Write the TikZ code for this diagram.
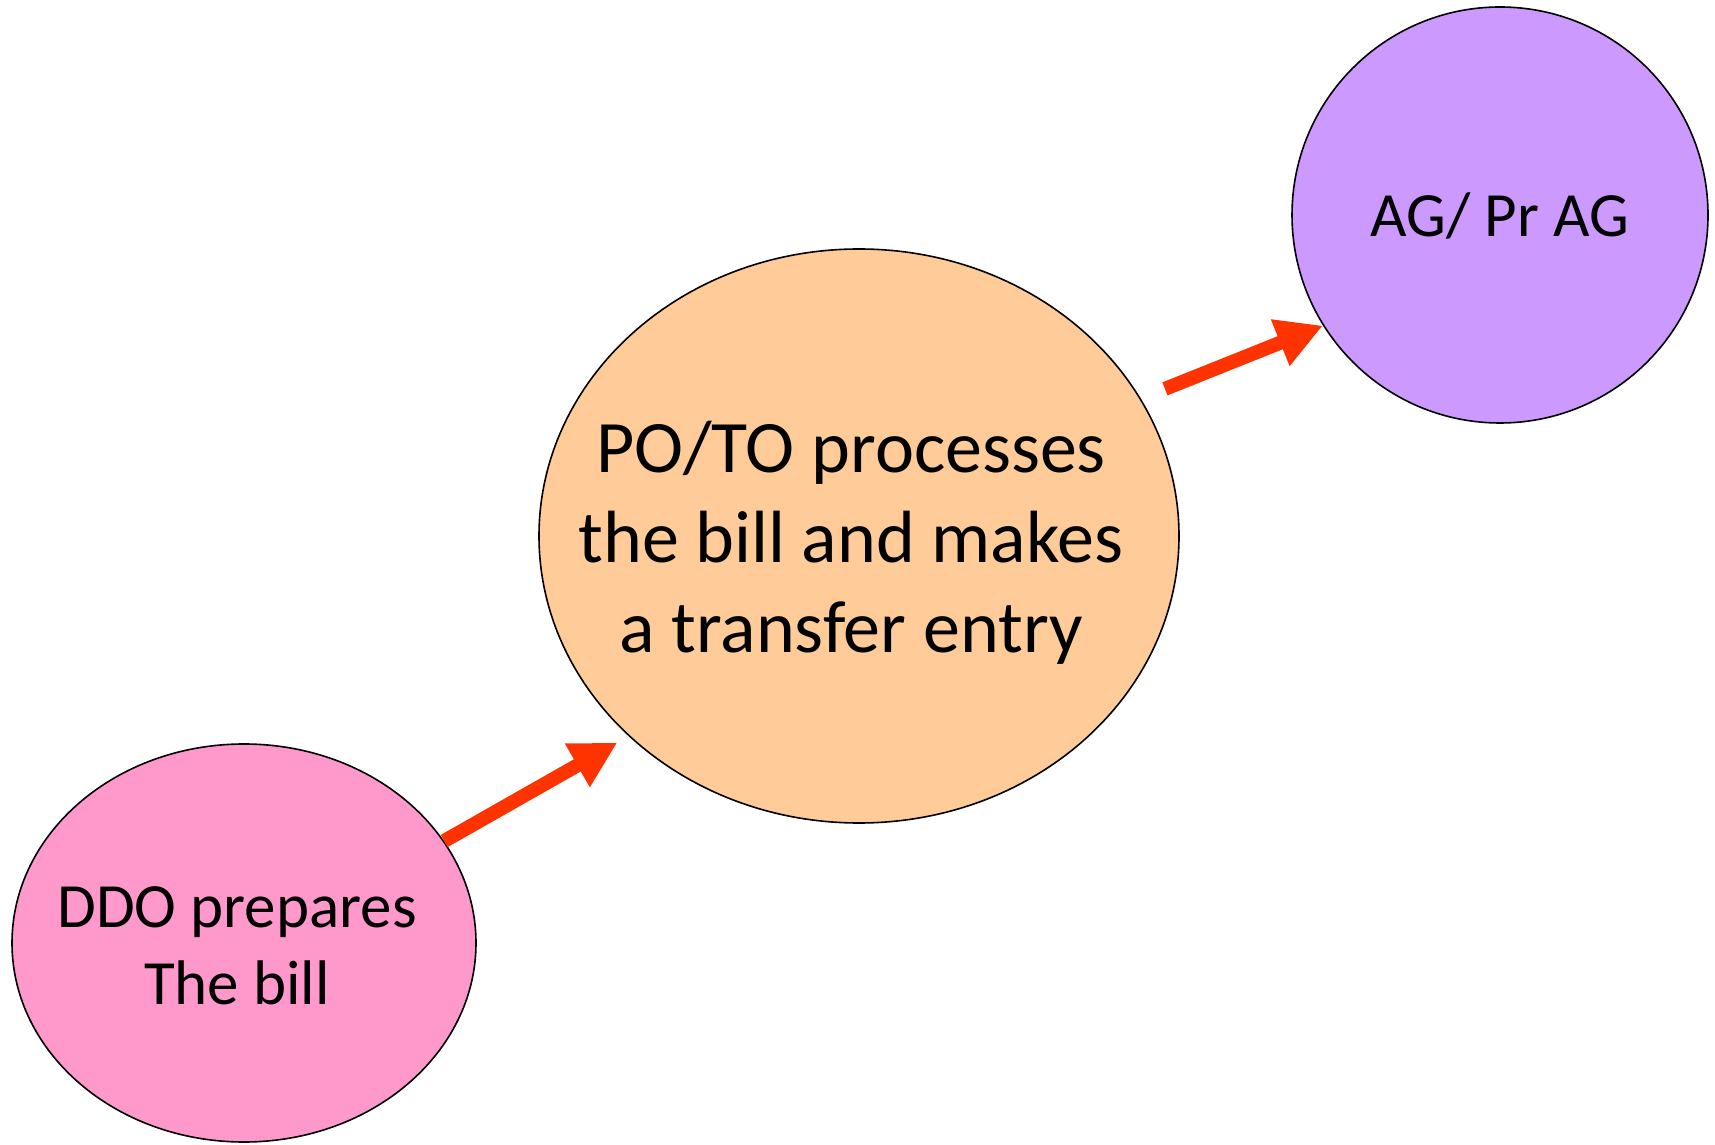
\documentclass[tikz,border=0pt]{standalone}
\usepackage{fontspec}
\setmainfont{Carlito}
\usetikzlibrary{shapes.geometric,arrows.meta}
\definecolor{pinkfill}{HTML}{FF99CC}
\definecolor{orangefill}{HTML}{FFCC99}
\definecolor{purplefill}{HTML}{CC99FF}
\definecolor{arrowred}{HTML}{FF3300}
\begin{document}
\begin{tikzpicture}[x=1pt,y=1pt,
  blob/.style={ellipse, draw=black, line width=1.6pt, inner sep=0pt},
  label/.style={align=center, inner sep=0pt, anchor=base},
  flow/.style={draw=arrowred, line width=14pt,
    -{Triangle[length=46pt,width=47pt]}}]
\useasboundingbox (0,0) rectangle (1715,1144);
% the three stages
\node[blob, fill=pinkfill, minimum width=464pt, minimum height=398pt] (ddo) at (244,201) {};
\node[blob, fill=orangefill, minimum width=640pt, minimum height=574pt] (poto) at (859,608) {};
\node[blob, fill=purplefill, minimum width=416pt, minimum height=416pt] (ag) at (1500,929) {};
% their captions (anchored at the baseline of the last line)
\node[label, font=\fontsize{63}{77}\selectfont] (ddotext) at (237,140) {DDO prepares\\The bill};
\node[label, font=\fontsize{74}{90}\selectfont] (pototext) at (851,491) {PO/TO processes\\the bill and makes\\a transfer entry};
\node[label, font=\fontsize{63}{77}\selectfont] (agtext) at (1500,907) {AG/ Pr AG};
% flow between stages
\draw[flow, shorten >=13pt] (ddo.27) -- (poto.221);
\draw[flow, shorten <=26pt] (poto.26) -- (ag.212.6);
\end{tikzpicture}
\end{document}
